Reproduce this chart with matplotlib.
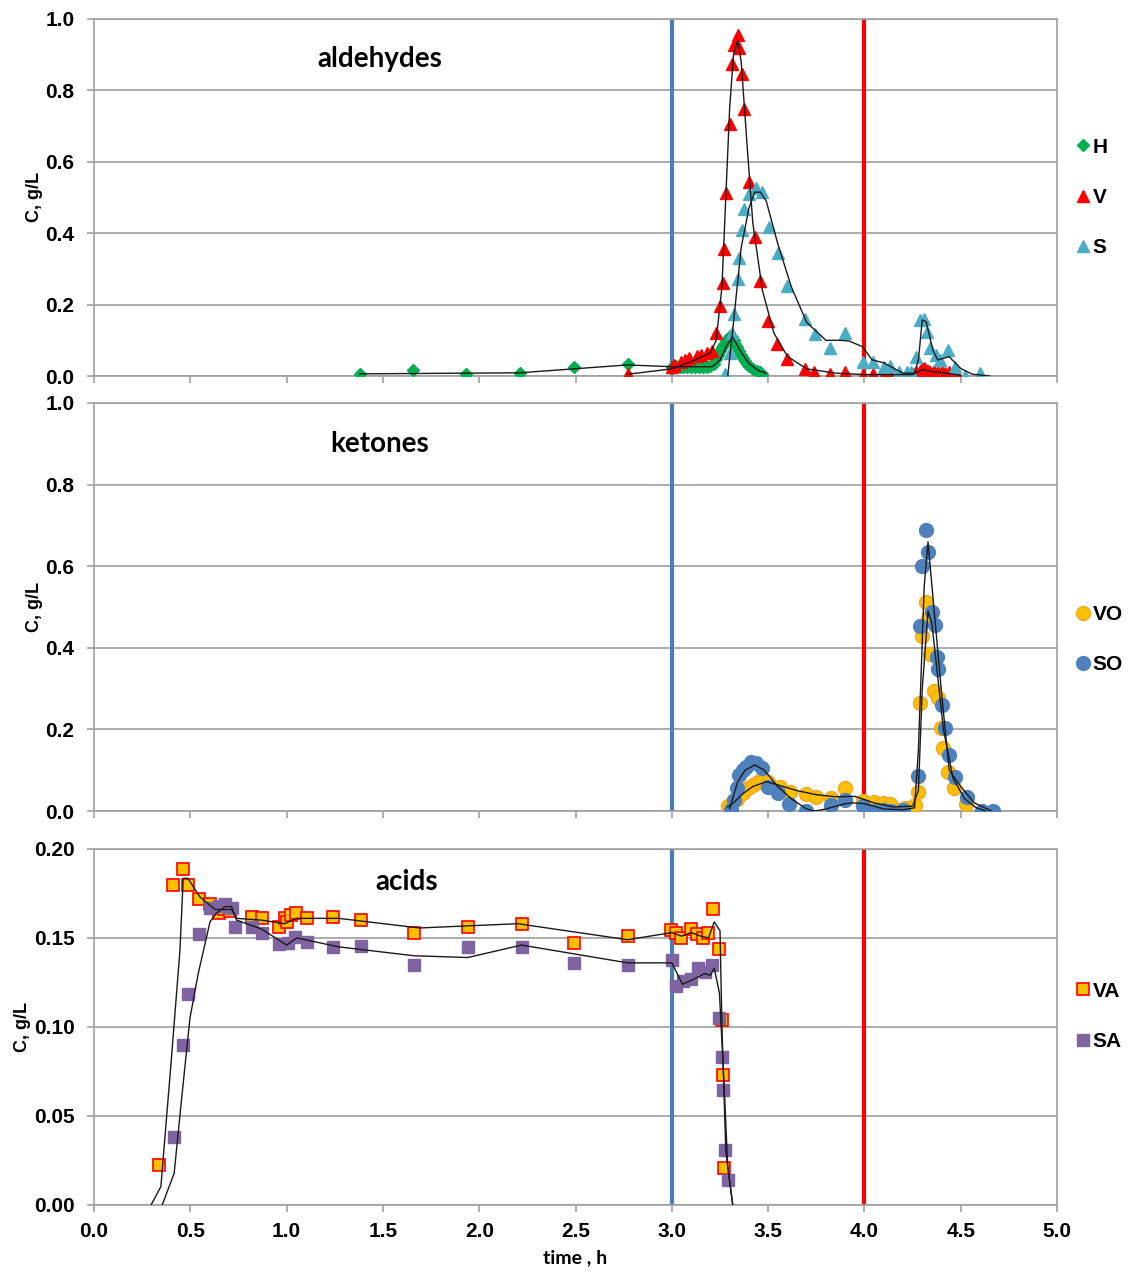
import matplotlib
matplotlib.use("Agg")
import matplotlib.pyplot as plt
import numpy as np

plt.rcParams['font.family'] = ['Liberation Sans', 'DejaVu Sans']

# ---------------- aldehydes ----------------
H_t = [1.38, 1.656, 1.93, 2.21, 2.49, 2.77,
       3.00, 3.02, 3.04, 3.06, 3.08, 3.10, 3.12, 3.14, 3.16, 3.18, 3.20, 3.22, 3.23, 3.24,
       3.25, 3.26, 3.27, 3.28, 3.29, 3.30, 3.31, 3.32, 3.33, 3.34, 3.35, 3.36, 3.37, 3.38,
       3.39, 3.40, 3.42, 3.44, 3.46, 3.47]
H_c = [0.006, 0.017, 0.006, 0.009, 0.026, 0.034,
       0.025, 0.028, 0.026, 0.024, 0.024, 0.024, 0.024, 0.024, 0.025, 0.025, 0.028, 0.035, 0.048, 0.06,
       0.07, 0.08, 0.09, 0.10, 0.105, 0.112, 0.11, 0.10, 0.09, 0.08, 0.07, 0.06, 0.05, 0.042,
       0.035, 0.028, 0.02, 0.015, 0.01, 0.005]
H_fit_t = [1.38, 2.21, 2.77, 3.0, 3.21, 3.25, 3.29, 3.315, 3.35, 3.40, 3.45, 3.49]
H_fit_c = [0.006, 0.009, 0.031, 0.026, 0.026, 0.045, 0.09, 0.11, 0.075, 0.035, 0.015, 0.008]

V_t = [2.77, 3.00, 3.01, 3.05, 3.07, 3.09, 3.13, 3.15, 3.18, 3.21, 3.23, 3.25, 3.264, 3.27,
       3.28, 3.30, 3.31, 3.32, 3.342, 3.35, 3.363, 3.377, 3.40, 3.434, 3.46, 3.50, 3.547,
       3.597, 3.69, 3.74, 3.82, 3.897, 3.99, 4.045, 4.10, 4.13, 4.18, 4.22, 4.25, 4.27, 4.29,
       4.30, 4.31, 4.32, 4.33, 4.34, 4.36, 4.38, 4.40, 4.42, 4.44, 4.46, 4.48]
V_c = [0.005, 0.026, 0.03, 0.04, 0.045, 0.05, 0.055, 0.06, 0.065, 0.07, 0.12, 0.196, 0.26, 0.356,
       0.513, 0.706, 0.873, 0.927, 0.955, 0.918, 0.845, 0.748, 0.544, 0.39, 0.267, 0.155, 0.09,
       0.047, 0.019, 0.012, 0.006, 0.01, 0.003, 0.005, 0.004, 0.004, 0.003, 0.004, 0.006, 0.01, 0.015,
       0.02, 0.022, 0.018, 0.015, 0.012, 0.015, 0.01, 0.012, 0.008, 0.01, 0.005, 0.003]
V_fit_t = [2.77, 3.0, 3.10, 3.20, 3.23, 3.26, 3.28, 3.30, 3.32, 3.342, 3.36, 3.39, 3.42, 3.47,
           3.53, 3.60, 3.70, 3.85, 4.0, 4.25, 4.30, 4.35, 4.40, 4.50]
V_fit_c = [0.005, 0.02, 0.04, 0.065, 0.1, 0.25, 0.5, 0.75, 0.9, 0.94, 0.88, 0.65, 0.43, 0.24,
           0.12, 0.055, 0.02, 0.008, 0.004, 0.004, 0.018, 0.012, 0.01, 0.002]

S_t = [3.276, 3.30, 3.31, 3.32, 3.342, 3.35, 3.363, 3.377, 3.40, 3.437, 3.467, 3.503, 3.55,
       3.599, 3.69, 3.745, 3.82, 3.897, 3.99, 4.045, 4.10, 4.13, 4.18, 4.22, 4.24, 4.27, 4.29,
       4.31, 4.325, 4.34, 4.37, 4.39, 4.435, 4.47, 4.52, 4.60]
S_c = [0.005, 0.064, 0.12, 0.175, 0.273, 0.33, 0.41, 0.467, 0.51, 0.526, 0.516, 0.418, 0.344,
       0.252, 0.159, 0.117, 0.078, 0.12, 0.04, 0.04, 0.024, 0.027, 0.012, 0.01, 0.01, 0.054, 0.157,
       0.159, 0.124, 0.078, 0.059, 0.045, 0.073, 0.024, 0.0, 0.008]
S_fit_t = [3.29, 3.32, 3.36, 3.40, 3.43, 3.46, 3.49, 3.55, 3.62, 3.70, 3.80, 3.87, 3.92, 3.99,
           4.04, 4.10, 4.15, 4.20, 4.26, 4.28, 4.30, 4.32, 4.355, 4.38, 4.44, 4.50, 4.56, 4.65]
S_fit_c = [0.0, 0.15, 0.36, 0.47, 0.515, 0.515, 0.49, 0.37, 0.25, 0.15, 0.1, 0.1, 0.098, 0.082,
           0.045, 0.037, 0.022, 0.008, 0.008, 0.045, 0.157, 0.152, 0.073, 0.045, 0.054, 0.021, 0.005, 0.0]

# ---------------- ketones ----------------
VO_t = [3.29, 3.31, 3.34, 3.368, 3.394, 3.42, 3.446, 3.47, 3.50, 3.56, 3.614, 3.694, 3.746, 3.828,
        3.90, 3.99, 4.05, 4.096, 4.135, 4.18, 4.21, 4.235, 4.26, 4.28, 4.287, 4.30, 4.318, 4.33,
        4.34, 4.36, 4.383, 4.395, 4.41, 4.435, 4.464, 4.526]
VO_c = [0.012, 0.02, 0.03, 0.043, 0.056, 0.064, 0.072, 0.076, 0.072, 0.06, 0.047, 0.042, 0.035,
        0.033, 0.057, 0.025, 0.023, 0.02, 0.017, 0.002, 0.007, 0.008, 0.015, 0.047, 0.265, 0.429,
        0.513, 0.472, 0.386, 0.295, 0.276, 0.203, 0.154, 0.096, 0.056, 0.017]
VO_fit_t = [3.29, 3.32, 3.37, 3.42, 3.49, 3.55, 3.65, 3.75, 3.85, 3.95, 4.05, 4.15, 4.25, 4.28,
            4.30, 4.33, 4.35, 4.38, 4.41, 4.46, 4.52, 4.58, 4.63]
VO_fit_c = [0.01, 0.02, 0.043, 0.06, 0.072, 0.064, 0.05, 0.04, 0.035, 0.036, 0.02, 0.01, 0.012,
            0.05, 0.3, 0.49, 0.46, 0.33, 0.2, 0.08, 0.03, 0.008, 0.0]

SO_t = [3.307, 3.325, 3.337, 3.347, 3.368, 3.386, 3.41, 3.437, 3.47, 3.50, 3.55, 3.607, 3.694,
        3.828, 3.90, 3.99, 4.05, 4.10, 4.14, 4.20, 4.28, 4.287, 4.30, 4.32, 4.33, 4.35, 4.365,
        4.374, 4.383, 4.405, 4.417, 4.44, 4.47, 4.53, 4.61, 4.665]
SO_c = [0.002, 0.027, 0.056, 0.088, 0.10, 0.109, 0.121, 0.117, 0.105, 0.06, 0.043, 0.017, 0.0,
        0.015, 0.027, 0.012, 0.001, 0.002, 0.001, 0.003, 0.086, 0.453, 0.60, 0.689, 0.636, 0.488,
        0.456, 0.378, 0.347, 0.26, 0.203, 0.137, 0.084, 0.035, 0.001, 0.0]
SO_fit_t = [3.30, 3.34, 3.38, 3.43, 3.48, 3.55, 3.62, 3.70, 3.74, 3.80, 3.90, 3.94, 4.00, 4.10,
            4.20, 4.26, 4.28, 4.31, 4.33, 4.36, 4.40, 4.44, 4.50, 4.57, 4.66]
SO_fit_c = [0.005, 0.07, 0.1, 0.113, 0.1, 0.06, 0.03, 0.005, 0.0, 0.005, 0.018, 0.02, 0.018, 0.005,
            0.003, 0.008, 0.15, 0.55, 0.66, 0.5, 0.29, 0.1, 0.06, 0.02, 0.0]

# ---------------- acids ----------------
VA_t = [0.338, 0.411, 0.463, 0.486, 0.546, 0.602, 0.65, 0.676, 0.706, 0.822, 0.874, 0.961, 0.992,
        1.004, 1.021, 1.047, 1.105, 1.243, 1.385, 1.66, 1.94, 2.22, 2.49, 2.77, 2.995, 3.02, 3.05,
        3.10, 3.13, 3.16, 3.19, 3.215, 3.247, 3.26, 3.264, 3.273]
VA_c = [0.0225, 0.18, 0.189, 0.180, 0.172, 0.169, 0.164, 0.166, 0.165, 0.162, 0.161, 0.156, 0.161,
        0.159, 0.163, 0.164, 0.161, 0.162, 0.160, 0.153, 0.156, 0.158, 0.147, 0.151, 0.1545, 0.153,
        0.150, 0.155, 0.152, 0.150, 0.153, 0.166, 0.144, 0.104, 0.073, 0.021]
VA_fit_t = [0.286, 0.347, 0.40, 0.446, 0.463, 0.487, 0.55, 0.628, 0.714, 0.74, 0.87, 0.99, 1.05,
            1.27, 1.69, 2.2, 2.77, 3.0, 3.05, 3.10, 3.15, 3.19, 3.22, 3.25, 3.26, 3.28, 3.316]
VA_fit_c = [-0.002, 0.0103, 0.08, 0.143, 0.1835, 0.1835, 0.173, 0.166, 0.166, 0.161, 0.160, 0.158,
            0.161, 0.161, 0.1556, 0.158, 0.149, 0.153, 0.151, 0.153, 0.151, 0.150, 0.159, 0.154,
            0.10, 0.03, 0.0]

SA_t = [0.413, 0.461, 0.487, 0.546, 0.602, 0.65, 0.68, 0.714, 0.732, 0.818, 0.874, 0.961, 1.006,
        1.041, 1.105, 1.243, 1.385, 1.66, 1.94, 2.22, 2.49, 2.77, 3.0, 3.02, 3.06, 3.10, 3.134,
        3.17, 3.21, 3.243, 3.26, 3.264, 3.276, 3.29]
SA_c = [0.0384, 0.090, 0.1185, 0.152, 0.1667, 0.168, 0.169, 0.167, 0.156, 0.156, 0.1526, 0.1466,
        0.1474, 0.1504, 0.148, 0.145, 0.1455, 0.135, 0.145, 0.145, 0.136, 0.135, 0.1376, 0.123,
        0.126, 0.127, 0.133, 0.131, 0.135, 0.105, 0.083, 0.0646, 0.031, 0.014]
SA_fit_t = [0.354, 0.416, 0.454, 0.498, 0.541, 0.602, 0.636, 0.68, 0.714, 0.74, 0.87, 1.0, 1.053,
            1.27, 1.66, 1.94, 2.22, 2.77, 3.0, 3.055, 3.116, 3.17, 3.2, 3.22, 3.247, 3.27, 3.29, 3.316]
SA_fit_c = [0.0, 0.0178, 0.059, 0.105, 0.130, 0.159, 0.164, 0.1676, 0.1676, 0.160, 0.155, 0.146,
            0.150, 0.145, 0.140, 0.139, 0.146, 0.136, 0.136, 0.124, 0.127, 0.130, 0.129, 0.133,
            0.119, 0.07, 0.0215, 0.0]

x_ticks = [0.0, 0.5, 1.0, 1.5, 2.0, 2.5, 3.0, 3.5, 4.0, 4.5, 5.0]
blue_t, red_t = 3.0, 4.0

GRID = '#a6a6a6'
SPINE = '#a0a0a0'
TICK_FS = 15
fig = plt.figure(figsize=(11.33, 12.72), dpi=100)
L, W = 0.083, 0.850
ax1 = fig.add_axes([L, 0.7044, W, 0.2807])
ax2 = fig.add_axes([L, 0.3624, W, 0.3208])
ax3 = fig.add_axes([L, 0.0527, W, 0.2799])

def style(ax, ylim, yticks, fmt, xlabels):
    ax.set_xlim(0, 5)
    ax.set_ylim(*ylim)
    ax.set_xticks(x_ticks)
    ax.set_yticks(yticks)
    ax.set_yticklabels([fmt.format(v) for v in yticks], fontsize=TICK_FS, fontweight='bold')
    if xlabels:
        ax.set_xticklabels([f'{v:.1f}' for v in x_ticks], fontsize=TICK_FS, fontweight='bold')
    else:
        ax.set_xticklabels([])
    ax.grid(axis='y', color=GRID, lw=1.3, zorder=0)
    ax.set_axisbelow(True)
    for s in ax.spines.values():
        s.set_color(SPINE)
        s.set_linewidth(1.2)
    ax.tick_params(axis='y', direction='out', color=SPINE, length=5, width=1.2, pad=9)
    ax.tick_params(axis='x', direction='out', color=SPINE, length=5, width=1.2, pad=7)
    ax.set_ylabel('C, g/L', fontsize=13, fontweight='bold', labelpad=2)
    ax.axvline(blue_t, color='#4a7ebb', lw=3, zorder=1)
    ax.axvline(red_t, color='#ff0000', lw=3, zorder=1)

style(ax1, (0, 1.0), [0, 0.2, 0.4, 0.6, 0.8, 1.0], '{:.1f}', False)
style(ax2, (0, 1.0), [0, 0.2, 0.4, 0.6, 0.8, 1.0], '{:.1f}', False)
style(ax3, (0, 0.20), [0, 0.05, 0.10, 0.15, 0.20], '{:.2f}', True)
ax3.set_xlabel('time , h', fontsize=14, fontweight='bold', family=['Lato', 'DejaVu Sans'],
               labelpad=6)

LC = '#1a1a1a'
lw = 1.0
# aldehydes
ax1.plot(H_t, H_c, ls='none', marker='D', ms=6, color='#00b050', label='H', zorder=3)
ax1.plot(V_t, V_c, ls='none', marker='^', ms=8.5, color='#ff0000', label='V', zorder=3)
ax1.plot(S_t, S_c, ls='none', marker='^', ms=8.5, color='#4bacc6', label='S', zorder=3)
ax1.plot(H_fit_t, H_fit_c, color=LC, lw=lw, zorder=4)
ax1.plot(V_fit_t, V_fit_c, color=LC, lw=lw, zorder=4)
ax1.plot(S_fit_t, S_fit_c, color=LC, lw=lw, zorder=4)
ax1.text(0.297, 0.887, 'aldehydes', transform=ax1.transAxes, ha='center', va='center',
         fontsize=20, fontweight='bold', family=['Lato', 'DejaVu Sans'])

# ketones
ax2.plot(VO_t, VO_c, ls='none', marker='o', ms=10, color='#ffc000', mec='#f5a623', mew=1,
         label='VO', zorder=3)
ax2.plot(SO_t, SO_c, ls='none', marker='o', ms=10, color='#4f81bd', mec='#4f81bd',
         label='SO', zorder=3)
ax2.plot(VO_fit_t, VO_fit_c, color=LC, lw=lw, zorder=4)
ax2.plot(SO_fit_t, SO_fit_c, color=LC, lw=lw, zorder=4)
ax2.text(0.297, 0.900, 'ketones', transform=ax2.transAxes, ha='center', va='center',
         fontsize=20, fontweight='bold', family=['Lato', 'DejaVu Sans'])

# acids
ax3.plot(VA_t, VA_c, ls='none', marker='s', ms=8.5, color='#ffc000', mec='#ff0000', mew=1.2,
         label='VA', zorder=3)
ax3.plot(SA_t, SA_c, ls='none', marker='s', ms=9, color='#7f64a2', mec='#7f64a2',
         label='SA', zorder=3)
ax3.plot(VA_fit_t, VA_fit_c, color=LC, lw=lw, zorder=4)
ax3.plot(SA_fit_t, SA_fit_c, color=LC, lw=lw, zorder=4)
ax3.text(0.325, 0.908, 'acids', transform=ax3.transAxes, ha='center', va='center',
         fontsize=20, fontweight='bold', family=['Lato', 'DejaVu Sans'])

for ax, yc in [(ax1, 0.50), (ax2, 0.42), (ax3, 0.53)]:
    leg = ax.legend(loc='center left', bbox_to_anchor=(1.013, yc), frameon=False,
                    handlelength=0.5, handletextpad=0.2, labelspacing=1.5,
                    prop={'size': 15, 'weight': 'bold'}, borderaxespad=0)

fig.savefig('out.png', dpi=100)
